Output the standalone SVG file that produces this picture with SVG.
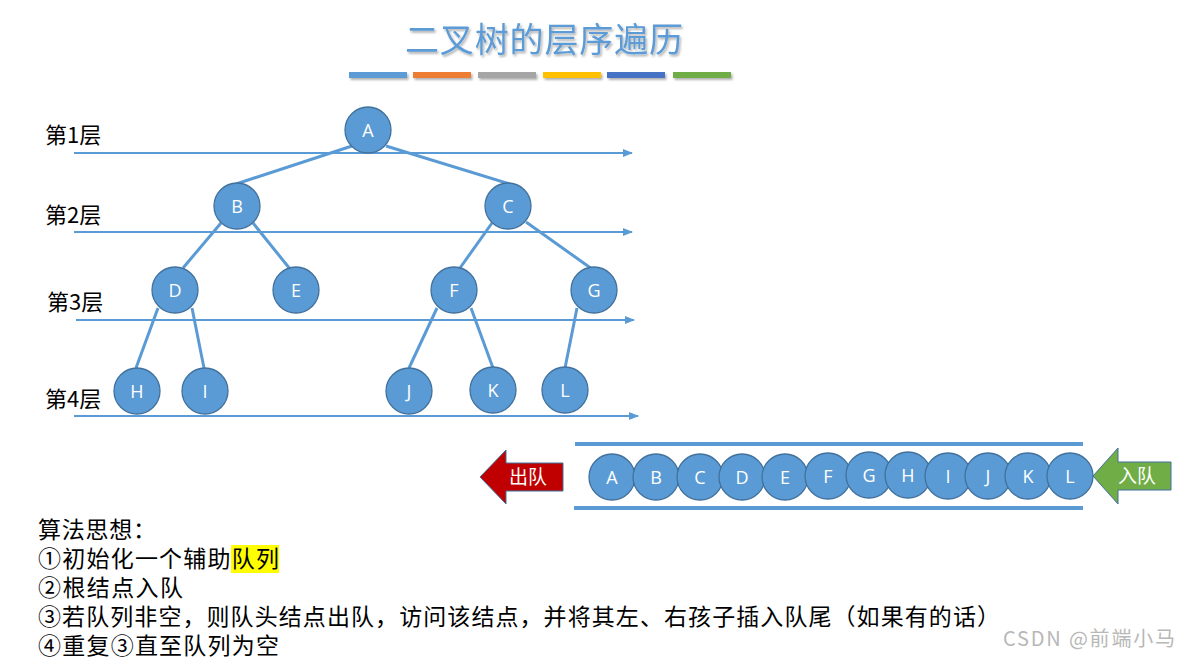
<svg xmlns="http://www.w3.org/2000/svg" width="1181" height="660" viewBox="0 0 1181 660">
<defs>
<style>
.cjk{font-family:"Noto Sans CJK SC","Noto Sans",sans-serif;}
.lvl{font-size:22px;fill:#000;}
.hl{stroke:#5B9BD5;stroke-width:2;fill:none;}
.edge{stroke:#5B9BD5;stroke-width:3;fill:none;}
.node{fill:#5B9BD5;stroke:#41719C;stroke-width:1.3;}
.nl{font-family:"Open Sans","Liberation Sans",sans-serif;font-size:18px;fill:#fff;text-anchor:middle;}
.body{font-size:23px;fill:#000;}
</style>
<marker id="ah" markerWidth="10" markerHeight="8" refX="9" refY="4" orient="auto" markerUnits="userSpaceOnUse">
<path d="M0,0 L10,4 L0,8 Z" fill="#5B9BD5"/>
</marker>
<filter id="sh" x="-10%" y="-50%" width="130%" height="250%">
<feDropShadow dx="1.5" dy="2" stdDeviation="1.2" flood-color="#000" flood-opacity="0.3"/>
</filter>
</defs>
<rect width="1181" height="660" fill="#fff"/>

<g id="title">
<text x="544" y="52" class="cjk" font-size="34" fill="#5B9BD5" text-anchor="middle" textLength="278" lengthAdjust="spacing" filter="url(#sh)">二叉树的层序遍历</text>
<g filter="url(#sh)">
<rect x="349" y="72" width="58" height="6" fill="#5B9BD5"/>
<rect x="413" y="72" width="58" height="6" fill="#ED7D31"/>
<rect x="478" y="72" width="58" height="6" fill="#A5A5A5"/>
<rect x="543" y="72" width="58" height="6" fill="#FFC000"/>
<rect x="607" y="72" width="58" height="6" fill="#4472C4"/>
<rect x="673" y="72" width="58" height="6" fill="#70AD47"/>
</g>
</g>

<g id="levels">
<text x="45" y="143" class="cjk lvl">第1层</text>
<text x="45" y="223" class="cjk lvl">第2层</text>
<text x="47" y="310" class="cjk lvl">第3层</text>
<text x="45" y="407" class="cjk lvl">第4层</text>
<line x1="74" y1="153" x2="632" y2="153" class="hl" marker-end="url(#ah)"/>
<line x1="74" y1="232" x2="632" y2="232" class="hl" marker-end="url(#ah)"/>
<line x1="76" y1="320" x2="634" y2="320" class="hl" marker-end="url(#ah)"/>
<line x1="74" y1="416" x2="638" y2="416" class="hl" marker-end="url(#ah)"/>
</g>

<g id="connectors">
<line x1="352" y1="146" x2="236" y2="184" class="edge"/>
<line x1="386" y1="146" x2="510" y2="184" class="edge"/>
<line x1="221" y1="223" x2="183" y2="268" class="edge"/>
<line x1="253" y1="223" x2="290" y2="269" class="edge"/>
<line x1="492" y1="223" x2="460" y2="268" class="edge"/>
<line x1="526" y1="222" x2="592" y2="269" class="edge"/>
<line x1="158" y1="308" x2="136" y2="368" class="edge"/>
<line x1="192" y1="308" x2="204" y2="368" class="edge"/>
<line x1="437" y1="308" x2="409" y2="368" class="edge"/>
<line x1="471" y1="308" x2="493" y2="368" class="edge"/>
<line x1="577" y1="308" x2="565" y2="368" class="edge"/>
</g>

<g id="node-A"><ellipse cx="368" cy="130" rx="23" ry="23" class="node"/><text x="368" y="137" class="nl">A</text></g>
<g id="node-B"><ellipse cx="237" cy="206" rx="23" ry="23" class="node"/><text x="237" y="213" class="nl">B</text></g>
<g id="node-C"><ellipse cx="508" cy="206" rx="23" ry="23" class="node"/><text x="508" y="213" class="nl">C</text></g>
<g id="node-D"><ellipse cx="175" cy="290" rx="23" ry="23" class="node"/><text x="175" y="297" class="nl">D</text></g>
<g id="node-E"><ellipse cx="296" cy="290" rx="23" ry="23" class="node"/><text x="296" y="297" class="nl">E</text></g>
<g id="node-F"><ellipse cx="454" cy="290" rx="23" ry="23" class="node"/><text x="454" y="297" class="nl">F</text></g>
<g id="node-G"><ellipse cx="594" cy="290" rx="23" ry="23" class="node"/><text x="594" y="297" class="nl">G</text></g>
<g id="node-H"><ellipse cx="137" cy="391" rx="23" ry="23" class="node"/><text x="137" y="398" class="nl">H</text></g>
<g id="node-I"><ellipse cx="205" cy="391" rx="23" ry="23" class="node"/><text x="205" y="398" class="nl">I</text></g>
<g id="node-J"><ellipse cx="409" cy="391" rx="23" ry="23" class="node"/><text x="409" y="398" class="nl">J</text></g>
<g id="node-K"><ellipse cx="493" cy="390" rx="23" ry="23" class="node"/><text x="493" y="397" class="nl">K</text></g>
<g id="node-L"><ellipse cx="565" cy="390" rx="23" ry="23" class="node"/><text x="565" y="397" class="nl">L</text></g>

<g id="queue">
<line x1="575" y1="444" x2="1083" y2="444" stroke="#5B9BD5" stroke-width="4"/>
<line x1="574" y1="508" x2="1083" y2="508" stroke="#5B9BD5" stroke-width="4"/>
<g id="q-A"><ellipse cx="612" cy="477" rx="23" ry="23" class="node"/><text x="612" y="484" class="nl">A</text></g>
<g id="q-B"><ellipse cx="656" cy="477" rx="23" ry="23" class="node"/><text x="656" y="484" class="nl">B</text></g>
<g id="q-C"><ellipse cx="700" cy="477" rx="23" ry="23" class="node"/><text x="700" y="484" class="nl">C</text></g>
<g id="q-D"><ellipse cx="742" cy="477" rx="23" ry="23" class="node"/><text x="742" y="484" class="nl">D</text></g>
<g id="q-E"><ellipse cx="785" cy="477" rx="23" ry="23" class="node"/><text x="785" y="484" class="nl">E</text></g>
<g id="q-F"><ellipse cx="828" cy="476" rx="23" ry="23" class="node"/><text x="828" y="483" class="nl">F</text></g>
<g id="q-G"><ellipse cx="869" cy="475" rx="23" ry="23" class="node"/><text x="869" y="482" class="nl">G</text></g>
<g id="q-H"><ellipse cx="908" cy="475" rx="23" ry="23" class="node"/><text x="908" y="482" class="nl">H</text></g>
<g id="q-I"><ellipse cx="948" cy="476" rx="23" ry="23" class="node"/><text x="948" y="483" class="nl">I</text></g>
<g id="q-J"><ellipse cx="988" cy="476" rx="23" ry="23" class="node"/><text x="988" y="483" class="nl">J</text></g>
<g id="q-K"><ellipse cx="1028" cy="476" rx="23" ry="23" class="node"/><text x="1028" y="483" class="nl">K</text></g>
<g id="q-L"><ellipse cx="1070" cy="476" rx="23" ry="23" class="node"/><text x="1070" y="483" class="nl">L</text></g>
</g>

<g id="dequeue">
<path d="M480,477 L506,450 L506,463 L563,463 L563,491 L506,491 L506,504 Z" fill="#C00000" stroke="#41719C" stroke-width="1"/>
<text x="528" y="484" class="cjk" font-size="19" fill="#fff" text-anchor="middle">出队</text>
</g>
<g id="enqueue">
<path d="M1093,476 L1118,448 L1118,462 L1171,462 L1171,490 L1118,490 L1118,504 Z" fill="#70AD47" stroke="#41719C" stroke-width="1"/>
<text x="1137" y="483" class="cjk" font-size="19" fill="#fff" text-anchor="middle">入队</text>
</g>

<g id="algorithm">
<rect x="231" y="545" width="48" height="28" fill="#FFFF00"/>
<text x="38" y="538" class="cjk body" textLength="118" lengthAdjust="spacing">算法思想：</text>
<text x="38" y="567" class="cjk body" textLength="241" lengthAdjust="spacing">①初始化一个辅助队列</text>
<text x="38" y="596" class="cjk body" textLength="145" lengthAdjust="spacing">②根结点入队</text>
<text x="38" y="625" class="cjk body" textLength="962" lengthAdjust="spacing">③若队列非空，则队头结点出队，访问该结点，并将其左、右孩子插入队尾（如果有的话）</text>
<text x="38" y="654" class="cjk body" textLength="241" lengthAdjust="spacing">④重复③直至队列为空</text>
</g>

<text x="1175" y="646" class="cjk" font-size="20" fill="#B8B8B8" text-anchor="end" textLength="172" lengthAdjust="spacing">CSDN @前端小马</text>
</svg>
